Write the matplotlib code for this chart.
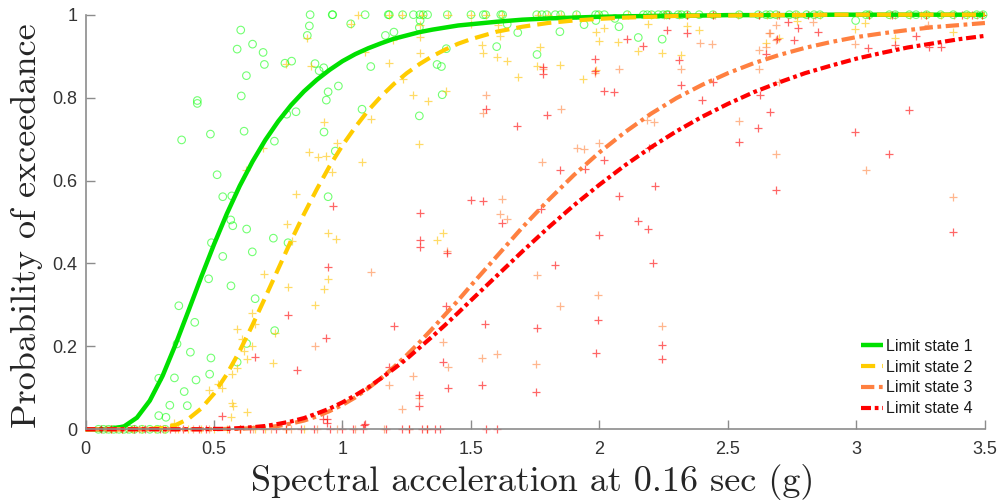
import matplotlib
matplotlib.use("Agg")
import matplotlib.pyplot as plt
import numpy as np

# fitted fragility curves
xs = [0.0, 0.05, 0.1, 0.15, 0.2, 0.25, 0.3, 0.35, 0.4, 0.45, 0.5, 0.55, 0.6, 0.65, 0.7, 0.75,
      0.8, 0.85, 0.9, 0.95, 1.0, 1.05, 1.1, 1.15, 1.2, 1.25, 1.3, 1.35, 1.4, 1.45, 1.5, 1.6,
      1.7, 1.8, 1.9, 2.0, 2.1, 2.2, 2.3, 2.4, 2.5, 2.6, 2.7, 2.8, 2.9, 3.0, 3.1, 3.2, 3.3, 3.4, 3.5]
curve1 = [0.0, 0.0, 0.001, 0.007, 0.028, 0.069, 0.129, 0.204, 0.285, 0.367, 0.446, 0.52, 0.587,
          0.646, 0.698, 0.743, 0.782, 0.815, 0.843, 0.867, 0.888, 0.905, 0.919, 0.931, 0.942, 0.95,
          0.958, 0.964, 0.969, 0.974, 0.977, 0.983, 0.988, 0.991, 0.993, 0.995, 0.996, 0.997, 0.998,
          0.998, 0.999, 0.999, 0.999, 0.999, 1.0, 1.0, 1.0, 1.0, 1.0, 1.0, 1.0]
curve2 = [0.0, 0.0, 0.0, 0.0, 0.0, 0.001, 0.003, 0.01, 0.025, 0.05, 0.086, 0.133, 0.189, 0.252,
          0.319, 0.387, 0.455, 0.519, 0.579, 0.635, 0.685, 0.729, 0.769, 0.803, 0.833, 0.859, 0.881,
          0.9, 0.916, 0.93, 0.941, 0.959, 0.971, 0.98, 0.986, 0.99, 0.993, 0.995, 0.997, 0.998, 0.998,
          0.999, 0.999, 0.999, 1.0, 1.0, 1.0, 1.0, 1.0, 1.0, 1.0]
curve3 = [0.0, 0.0, 0.0, 0.0, 0.0, 0.0, 0.0, 0.0, 0.0, 0.0, 0.0, 0.001, 0.001, 0.003, 0.005, 0.008,
          0.014, 0.021, 0.031, 0.044, 0.059, 0.077, 0.099, 0.123, 0.15, 0.179, 0.21, 0.243, 0.277,
          0.311, 0.347, 0.417, 0.487, 0.552, 0.613, 0.668, 0.717, 0.761, 0.799, 0.831, 0.859, 0.883,
          0.903, 0.92, 0.934, 0.946, 0.955, 0.963, 0.97, 0.975, 0.98]
curve4 = [0.0, 0.0, 0.0, 0.0, 0.0, 0.0, 0.0, 0.0, 0.0, 0.0, 0.001, 0.001, 0.003, 0.005, 0.008, 0.013,
          0.019, 0.027, 0.038, 0.05, 0.065, 0.082, 0.101, 0.123, 0.146, 0.17, 0.197, 0.224, 0.252,
          0.281, 0.311, 0.37, 0.429, 0.486, 0.54, 0.59, 0.637, 0.68, 0.719, 0.754, 0.785, 0.813,
          0.837, 0.859, 0.877, 0.894, 0.908, 0.921, 0.931, 0.941, 0.949]

# observed exceedance points (Sa, P) for every limit state
ls1_pts = [(0.604, 0.963), (0.871, 0.973), (0.863, 0.950), (0.590, 0.917), (0.650, 0.929), (0.691, 0.909),
           (0.696, 0.880), (0.626, 0.853), (0.776, 0.883), (0.802, 0.888), (0.893, 0.882), (0.909, 0.865),
           (0.927, 0.872), (0.984, 0.828), (0.944, 0.814), (0.937, 0.794), (0.606, 0.804), (0.435, 0.793),
           (0.435, 0.786), (0.819, 0.766), (0.783, 0.760), (0.374, 0.698), (0.486, 0.712), (0.617, 0.719),
           (0.735, 0.695), (0.928, 0.717), (0.972, 0.671), (0.512, 0.614), (0.534, 0.561), (0.569, 0.563),
           (0.944, 0.561), (0.565, 0.505), (0.573, 0.491), (0.627, 0.483), (0.731, 0.461), (0.788, 0.450),
           (0.490, 0.450), (0.534, 0.417), (0.649, 0.428), (0.479, 0.363), (0.566, 0.346), (0.660, 0.315),
           (0.363, 0.298), (0.425, 0.258), (0.356, 0.206), (0.627, 0.207), (0.736, 0.238), (0.408, 0.186),
           (0.488, 0.172), (0.590, 0.162), (0.285, 0.123), (0.346, 0.124), (0.430, 0.119), (0.483, 0.133),
           (0.384, 0.091), (0.328, 0.058), (0.396, 0.057), (0.285, 0.033), (0.313, 0.029),
           (1.200, 0.958), (1.167, 0.950), (1.110, 0.875), (1.299, 0.969), (1.404, 0.918), (1.368, 0.880),
           (1.385, 0.875), (1.299, 0.756), (1.076, 0.772), (1.388, 0.807), (1.032, 0.978), (1.302, 0.986),
           (1.641, 0.977), (1.682, 0.957), (1.600, 0.923), (1.757, 0.904), (1.846, 0.959), (1.940, 0.976),
           (1.986, 0.986), (2.060, 0.991), (2.076, 0.971), (2.151, 0.945), (2.244, 0.941), (2.997, 0.986)]
ls1_zero = [0.05, 0.07, 0.09, 0.11, 0.13, 0.15, 0.17, 0.19, 0.22, 0.25, 0.28, 0.31]
ls1_one = [0.874, 0.960, 0.962, 1.088, 1.178, 1.182, 1.234, 1.276, 1.301, 1.314, 1.331, 1.408, 1.500,
           1.548, 1.557, 1.616, 1.623, 1.756, 1.776, 1.795, 1.828, 1.849, 1.911, 1.985, 1.997, 2.019,
           2.108, 2.171, 2.186, 2.203, 2.229, 2.248, 2.262, 2.268, 2.306, 2.319, 2.341, 2.388, 2.442,
           2.544, 2.618, 2.648, 2.664, 2.687, 2.739, 2.765, 2.806, 2.835, 2.858, 3.037, 3.050, 3.128,
           3.151, 3.206, 3.232, 3.273, 3.328, 3.377, 3.429, 3.468, 3.493]

ls2_pts = [(0.861, 0.945), (0.876, 0.876), (0.927, 0.740), (0.870, 0.669), (0.903, 0.657), (0.935, 0.659),
           (0.960, 0.620), (0.689, 0.678), (0.625, 0.625), (0.818, 0.567), (0.784, 0.495), (0.802, 0.455),
           (0.945, 0.474), (0.974, 0.459), (0.942, 0.362), (0.927, 0.339), (0.695, 0.375), (0.787, 0.344),
           (0.892, 0.301), (0.647, 0.280), (0.660, 0.254), (0.588, 0.241), (0.608, 0.217), (0.617, 0.189),
           (0.647, 0.201), (0.736, 0.233), (0.628, 0.170), (0.590, 0.147), (0.569, 0.133), (0.731, 0.161),
           (0.481, 0.095), (0.530, 0.099), (0.517, 0.109), (0.569, 0.064), (0.573, 0.055), (0.627, 0.041),
           (0.565, 0.029), (0.346, 0.014),
           (1.088, 0.910), (1.182, 0.883), (0.780, 0.881), (1.076, 0.645), (1.111, 0.748), (0.979, 0.691),
           (1.234, 0.844), (1.276, 0.806), (1.331, 0.792), (1.298, 0.687), (1.302, 0.907), (1.302, 0.974),
           (1.401, 0.817), (1.391, 0.474), (1.369, 0.457), (1.032, 0.978), (1.198, 0.939), (1.302, 0.947),
           (1.501, 0.978), (1.544, 0.927), (1.548, 0.907), (1.606, 0.975), (1.613, 0.949), (1.600, 0.897),
           (1.641, 0.889), (1.682, 0.849), (1.756, 0.876), (1.768, 0.923), (1.846, 0.879), (1.937, 0.845),
           (1.985, 0.867), (1.985, 0.959), (1.999, 0.937), (2.019, 0.967), (2.073, 0.935), (2.151, 0.913),
           (2.190, 0.978), (2.242, 0.907), (2.339, 0.973), (2.388, 0.963), (2.316, 0.903), (2.648, 0.931),
           (2.700, 0.945), (2.770, 0.986), (2.994, 0.965), (3.033, 0.979), (3.151, 0.945), (3.377, 0.958)]
ls2_zero = [0.1, 0.14, 0.18, 0.22, 0.27, 0.31, 0.36, 0.4, 0.45, 0.5, 0.55, 0.6, 0.66, 0.7, 0.78, 0.85]
ls2_one = [1.06, 1.18, 1.23, 1.31, 1.41, 1.5, 1.56, 1.62, 1.76, 1.8, 1.85, 1.91, 2.0, 2.11, 2.2, 2.26,
           2.31, 2.34, 2.44, 2.54, 2.65, 2.69, 2.77, 2.86, 3.05, 3.13, 3.21, 3.27, 3.33, 3.43, 3.49]

ls3_pts = [(1.405, 0.431), (1.111, 0.379), (0.893, 0.202), (1.390, 0.211), (1.412, 0.151), (1.276, 0.129),
           (1.298, 0.075), (1.233, 0.048), (1.182, 0.107),
           (1.984, 0.859), (1.779, 0.870), (2.076, 0.868), (2.317, 0.868), (2.391, 0.932), (2.437, 0.929),
           (1.558, 0.807), (1.548, 0.764), (1.849, 0.772), (1.911, 0.679), (1.941, 0.675), (1.999, 0.691),
           (2.184, 0.746), (2.213, 0.742), (1.775, 0.645), (1.622, 0.555), (1.613, 0.519), (1.641, 0.507),
           (1.757, 0.372), (1.995, 0.323), (1.846, 0.298), (2.244, 0.249), (1.544, 0.173), (1.602, 0.182),
           (1.752, 0.157),
           (2.543, 0.744), (2.622, 0.869), (2.621, 0.915), (2.648, 0.923), (2.687, 0.663), (2.698, 0.837),
           (2.687, 0.939), (2.661, 0.957), (2.832, 0.983), (3.036, 0.625), (2.995, 0.929), (3.377, 0.561),
           (2.663, 0.957), (2.687, 0.975), (3.280, 0.975)]
ls3_zero = [0.08, 0.12, 0.16, 0.21, 0.3, 0.35, 0.42, 0.48, 0.6, 0.65, 0.72, 0.8, 0.9, 0.98, 1.05,
            1.16, 1.26, 1.33]
ls3_one = [2.25, 2.34, 2.45, 2.62, 2.69, 2.76, 2.84, 3.05, 3.15, 3.25, 3.38, 3.47]

ls4_pts = [(0.962, 0.539), (1.302, 0.521), (1.302, 0.457), (1.302, 0.440), (1.405, 0.425), (0.944, 0.392),
           (0.789, 0.275), (0.937, 0.221), (1.200, 0.249), (1.403, 0.298), (1.390, 0.163), (1.411, 0.099),
           (0.822, 0.143), (0.660, 0.175), (1.298, 0.083), (1.298, 0.057), (1.182, 0.151), (1.084, 0.010),
           (0.530, 0.032), (0.938, 0.024), (0.925, 0.026), (0.941, 0.014), (1.088, 0.013),
           (1.984, 0.893), (1.984, 0.865), (1.779, 0.875), (1.779, 0.857), (2.017, 0.816), (2.058, 0.814),
           (2.108, 0.941), (2.171, 0.925), (2.264, 0.963), (2.339, 0.955), (2.309, 0.891), (2.316, 0.830),
           (2.398, 0.794), (2.440, 0.838), (1.558, 0.772), (1.680, 0.732), (1.794, 0.757), (1.845, 0.625),
           (2.019, 0.650), (1.944, 0.628), (2.193, 0.679), (2.076, 0.563), (2.216, 0.588), (1.500, 0.553),
           (1.548, 0.551), (1.622, 0.497), (1.771, 0.531), (2.150, 0.502), (2.188, 0.482), (1.999, 0.468),
           (2.207, 0.402), (1.827, 0.396), (1.995, 0.264), (1.554, 0.253), (1.758, 0.244), (2.244, 0.203),
           (2.244, 0.169), (1.985, 0.185), (1.544, 0.108), (1.752, 0.091),
           (2.543, 0.692), (2.617, 0.726), (2.648, 0.905), (2.624, 0.806), (2.663, 0.766), (2.687, 0.576),
           (2.690, 0.942), (2.757, 0.939), (2.771, 0.969), (2.735, 0.983), (2.851, 0.959), (2.995, 0.716),
           (3.127, 0.663), (3.204, 0.770), (3.046, 0.919), (3.151, 0.927), (3.232, 0.949), (3.282, 0.923),
           (3.328, 0.923), (3.377, 0.476)]
ls4_zero = [0.06, 0.1, 0.14, 0.19, 0.23, 0.29, 0.33, 0.38, 0.44, 0.47, 0.56, 0.6, 0.64, 0.69, 0.74, 0.78,
            0.84, 0.89, 0.95, 1.0, 1.04, 1.08, 1.17, 1.23, 1.26, 1.31, 1.33, 1.36, 1.38, 1.56, 1.6]
ls4_one = [2.27, 2.34, 2.44, 2.62, 2.7, 2.81, 3.05, 3.14, 3.27, 3.41, 3.45, 3.49]

labels = ["Limit state 1", "Limit state 2", "Limit state 3", "Limit state 4"]
colors = ["#00e000", "#ffcc00", "#ff8040", "#ff0000"]


def all_points(pts, zero, one):
    x = [p[0] for p in pts] + zero + one
    y = [p[1] for p in pts] + [0.0] * len(zero) + [1.0] * len(one)
    return np.array(x), np.array(y)


fig = plt.figure(figsize=(9.98, 5.0), dpi=100)
ax = fig.add_axes([0.0857, 0.1414, 0.9012, 0.8292])

# scatter of observations
x, y = all_points(ls1_pts, ls1_zero, ls1_one)
ax.scatter(x, y, s=30, facecolors="none", edgecolors="#00ff00", linewidths=0.8, alpha=0.55, clip_on=False)
x, y = all_points(ls2_pts, ls2_zero, ls2_one)
ax.scatter(x, y, s=40, marker="+", color="#ffc400", linewidths=0.9, alpha=0.6, clip_on=False)
x, y = all_points(ls3_pts, ls3_zero, ls3_one)
ax.scatter(x, y, s=40, marker="+", color="#ff7a30", linewidths=0.9, alpha=0.55, clip_on=False)
x, y = all_points(ls4_pts, ls4_zero, ls4_one)
ax.scatter(x, y, s=40, marker="+", color="#ff0000", linewidths=0.9, alpha=0.6, clip_on=False)

# fitted curves
l1, = ax.plot(xs, curve1, color=colors[0], lw=3.2, solid_capstyle="butt")
l2, = ax.plot(xs, curve2, color=colors[1], lw=3.0, dashes=(3.4, 1.7))
l3, = ax.plot(xs, curve3, color=colors[2], lw=3.0, dashes=(3.2, 1.1, 0.9, 1.1))
l4, = ax.plot(xs, curve4, color=colors[3], lw=3.0, dashes=(2.4, 0.9, 0.9, 0.9))
for ln in (l1, l2, l3, l4):
    ln.set_clip_on(False)

ax.set_xlim(0, 3.5)
ax.set_ylim(0, 1)
ax.set_xticks([0, 0.5, 1, 1.5, 2, 2.5, 3, 3.5])
ax.set_xticklabels(["0", "0.5", "1", "1.5", "2", "2.5", "3", "3.5"])
ax.set_yticks([0, 0.2, 0.4, 0.6, 0.8, 1])
ax.set_yticklabels(["0", "0.2", "0.4", "0.6", "0.8", "1"])

for side in ("top", "right"):
    ax.spines[side].set_visible(False)
for side in ("left", "bottom"):
    ax.spines[side].set_color("#8c8c8c")
    ax.spines[side].set_linewidth(1.2)
ax.tick_params(direction="in", length=6.5, width=1.0, color="#8c8c8c",
               labelsize=13, labelcolor="#333333")
ax.tick_params(axis="x", pad=8.5)
ax.tick_params(axis="y", pad=6)
for t in ax.get_xticklabels() + ax.get_yticklabels():
    t.set_family("Liberation Sans")

fig.text(0.534, 0.037, "Spectral acceleration at 0.16 sec (g)", family="cmr10",
         fontsize=26, color="#262626", ha="center", va="center")
fig.text(0.027, 0.548, "Probability of exceedance", family="cmr10",
         fontsize=26, color="#262626", ha="center", va="center", rotation=90)

leg = fig.legend([l1, l2, l3, l4], labels, loc="upper left",
                 bbox_to_anchor=(853 / 998, 1 - 331 / 500), frameon=False,
                 prop={"family": "Liberation Sans", "size": 11.5},
                 handlelength=1.4, handletextpad=0.15, labelspacing=0.36, borderpad=0)
for t in leg.get_texts():
    t.set_color("#1a1a1a")

fig.savefig("out.png", dpi=100)
